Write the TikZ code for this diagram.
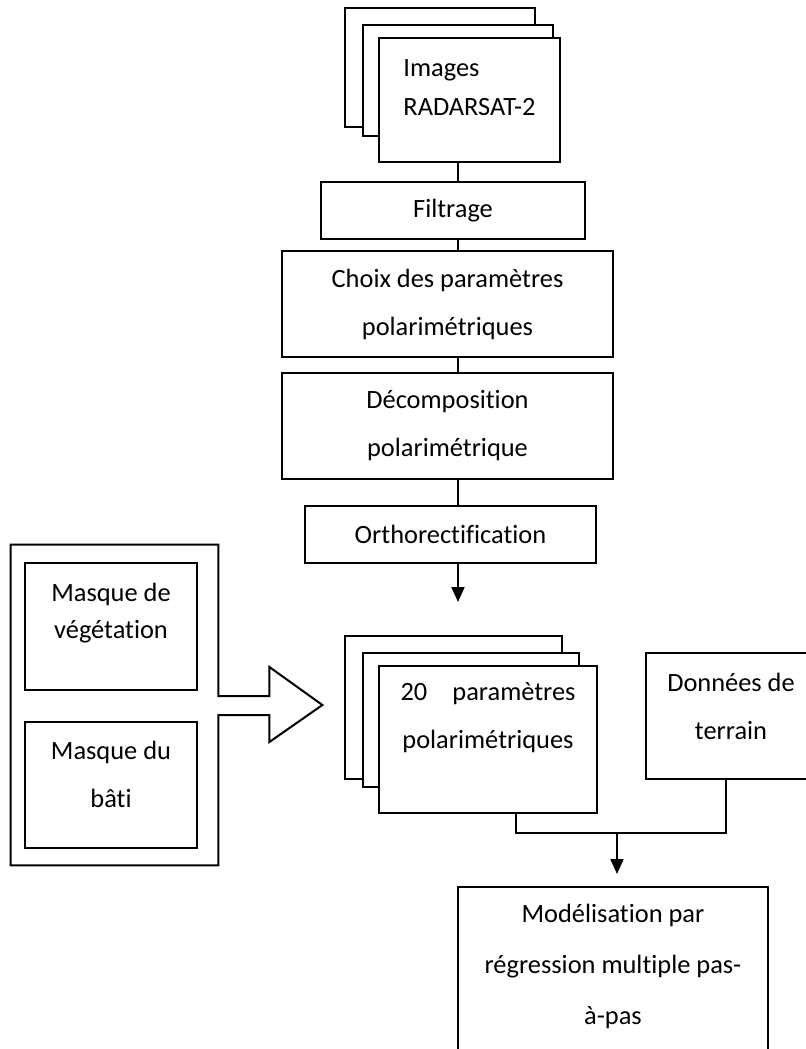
\documentclass[tikz,border=0pt]{standalone}
\usepackage{fontspec}
\setmainfont{Carlito}[Ligatures=CommonOff]
\usetikzlibrary{arrows.meta, calc}

\begin{document}
\begin{tikzpicture}[x=0.5pt, y=-0.5pt,
  every node/.style={font=\fontsize{13.2}{24}\selectfont, align=center},
  box/.style={draw, line width=1pt, fill=white, inner sep=0pt},
  line/.style={line width=1pt},
  arrow/.style={line width=1pt, -{Triangle[width=6.5pt, length=7.5pt]}}]
  \clip (0,0) rectangle (806,1049);
  \coordinate (spine) at (458,0);

  % Stack of RADARSAT-2 images
  \node[box, minimum width=95pt, minimum height=59.5pt] (img3) at (440,67.5) {};
  \node[box, minimum width=95pt, minimum height=55.5pt] (img2) at (458,80.5) {};
  \node[box, minimum width=90.5pt, minimum height=62pt,
        label={[align=left, yshift=6.25pt]center:Images\\[-4.5pt]RADARSAT-2}] (img1) at (469.5,100) {};

  % Processing chain
  \node[box, minimum width=132pt, minimum height=28.5pt] (filt) at (453,210.5) {Filtrage};
  \node[box, minimum width=165.5pt, minimum height=53pt] (choix) at (447.5,304) {Choix des paramètres\\polarimétriques};
  \node[box, minimum width=165.5pt, minimum height=53pt] (decomp) at (447.5,426) {Décomposition\\polarimétrique};
  \node[box, minimum width=145.5pt, minimum height=28.5pt] (ortho) at (450.5,534.5) {Orthorectification};

  % Masks box with its arrow
  \node[minimum width=103.5pt, minimum height=160pt, inner sep=0pt] (masques) at (114.5,705) {};
  \draw[line, line join=miter] (masques.north east) -- ([yshift=4.5pt]masques.east) -- ++(51,0) -- ++(0,-29)
    -- ++(53,38) -- ++(-53,37) -- ++(0,-27) -- ++(-51,0) -- (masques.south east)
    -- (masques.south west) -- (masques.north west) -- cycle;
  \node[box, minimum width=86pt, minimum height=63.5pt,
        label={[yshift=6.5pt]center:Masque de\\[-5.5pt]végétation}] (veg) at (111,626.5) {};
  \node[box, minimum width=86pt, minimum height=63pt,
        label={[yshift=5.5pt]center:Masque du\\bâti}] (bati) at (111,785) {};

  % Stack of polarimetric parameters
  \node[box, minimum width=108.5pt, minimum height=71.5pt] (par3) at (453.5,707.5) {};
  \node[box, minimum width=108pt, minimum height=67pt] (par2) at (471,720) {};
  \node[box, minimum width=109pt, minimum height=73.5pt,
        label={[yshift=11pt]center:\makebox[87.5pt][s]{20 paramètres}\\polarimétriques}] (par1) at (488,739.5) {};

  % Field data
  \node[box, minimum width=85pt, minimum height=63pt,
        label={[yshift=5pt]center:Données de\\terrain}] (donnees) at (731,716) {};

  % Model
  \node[box, minimum width=155pt, minimum height=89pt,
        label={[yshift=5pt]center:Modélisation par\\[1.5pt]régression multiple pas-\\[1.5pt]à-pas}] (model) at (613,976) {};

  % Connectors
  \draw[line] (img1.south -| spine) -- (filt.north -| spine);
  \draw[line] (filt.south -| spine) -- (choix.north -| spine);
  \draw[line] (choix.south -| spine) -- (decomp.north -| spine);
  \draw[line] (decomp.south -| spine) -- (ortho.north -| spine);
  \draw[arrow, shorten >=16.5pt] (ortho.south -| spine) -- (par3.north -| spine);

  \coordinate (merge) at (516,833);
  \coordinate (tap) at (726,833);
  \coordinate (drop) at (617,833);
  \draw[line] (par1.south -| merge) -- (merge) -- (tap) -- (tap |- donnees.south);
  \draw[arrow, shorten >=6pt] (drop) -- (drop |- model.north);
\end{tikzpicture}
\end{document}
